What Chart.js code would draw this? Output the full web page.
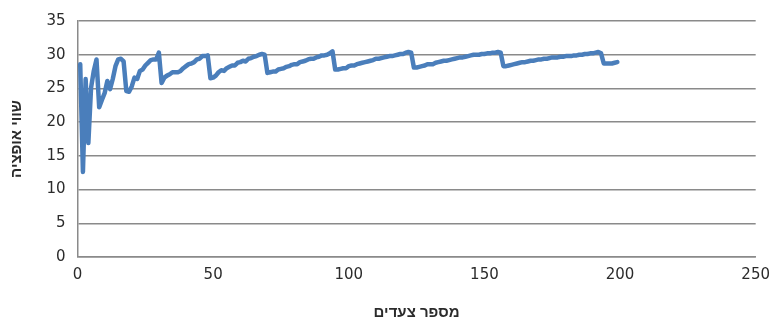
<!DOCTYPE html>
<html lang="he">
<head>
<meta charset="utf-8">
<title>שווי אופציה לפי מספר צעדים</title>
<script src="https://cdn.jsdelivr.net/npm/chart.js@4.4.1/dist/chart.umd.min.js"></script>
<style>
  html, body { margin: 0; padding: 0; background: #ffffff; }
  #wrap { width: 779px; height: 320px; }
</style>
</head>
<body>
<div id="wrap"><canvas id="c" width="779" height="320"></canvas></div>
<script>
// Option value computed on a tree with n steps, n = 1, 2, 3, ...
const optionValues = [
  28.6, 12.6, 26.4, 16.9, 25.1, 27.6, 29.3, 22.2, 23.3, 24.3,
  26.1, 24.9, 26.4, 28.3, 29.3, 29.4, 29.0, 24.6, 24.5, 25.3,
  26.6, 26.4, 27.6, 27.8, 28.4, 28.8, 29.2, 29.3, 29.3, 30.3,
  25.8, 26.6, 26.9, 27.1, 27.4, 27.4, 27.4, 27.6, 28.0, 28.3,
  28.6, 28.7, 28.9, 29.3, 29.4, 29.8, 29.8, 29.9, 26.5, 26.6,
  26.9, 27.4, 27.7, 27.6, 28.0, 28.2, 28.4, 28.4, 28.8, 28.9,
  29.1, 29.0, 29.4, 29.5, 29.7, 29.8, 30.0, 30.1, 30.0, 27.3,
  27.4, 27.5, 27.5, 27.8, 27.9, 28.0, 28.2, 28.3, 28.5, 28.6,
  28.6, 28.9, 29.0, 29.1, 29.3, 29.4, 29.4, 29.6, 29.7, 29.9,
  29.9, 30.0, 30.2, 30.5, 27.8, 27.8, 27.9, 28.0, 28.0, 28.3,
  28.4, 28.4, 28.6, 28.7, 28.8, 28.9, 29.0, 29.1, 29.2, 29.4,
  29.4, 29.5, 29.6, 29.7, 29.8, 29.8, 29.9, 30.0, 30.1, 30.1,
  30.3, 30.4, 30.3, 28.1, 28.1, 28.2, 28.3, 28.4, 28.6, 28.6,
  28.6, 28.8, 28.9, 29.0, 29.1, 29.1, 29.2, 29.3, 29.4, 29.5,
  29.6, 29.6, 29.7, 29.8, 29.9, 30.0, 30.0, 30.0, 30.1, 30.1,
  30.2, 30.2, 30.3, 30.3, 30.4, 30.3, 28.3, 28.3, 28.4, 28.5,
  28.6, 28.7, 28.8, 28.9, 28.9, 29.0, 29.1, 29.1, 29.2, 29.3,
  29.3, 29.4, 29.4, 29.5, 29.6, 29.6, 29.6, 29.7, 29.7, 29.8,
  29.8, 29.8, 29.9, 29.9, 30.0, 30.0, 30.1, 30.1, 30.2, 30.2,
  30.3, 30.4, 30.2, 28.7, 28.7, 28.7, 28.7, 28.8, 28.9
];
// Step counts, one per value
const steps = optionValues.map((_, i) => i + 1);

// Axis ticks
const xTicks = [0, 50, 100, 150, 200, 250];
const yTicks = [0, 5, 10, 15, 20, 25, 30, 35];

const xTitle = 'מספר צעדים';
const yTitle = 'שווי אופציה';

const lineColor = '#4a7ebb';
const gridColor = '#8a8a8a';
const textColor = '#2b2b2b';
const tickFont = { family: 'DejaVu Sans', size: 15 };
const titleFont = { family: 'Liberation Sans', size: 15, weight: 'bold' };

const points = steps.map((s, i) => ({ x: s, y: optionValues[i] }));

new Chart(document.getElementById('c'), {
  type: 'scatter',
  data: {
    datasets: [{
      data: points,
      showLine: true,
      borderColor: lineColor,
      backgroundColor: lineColor,
      borderWidth: 4.5,
      borderJoinStyle: 'round',
      borderCapStyle: 'round',
      pointRadius: 0,
      tension: 0
    }]
  },
  options: {
    responsive: false,
    animation: false,
    devicePixelRatio: 1,
    layout: { padding: { left: 0, right: 16, top: 16, bottom: 0 } },
    plugins: {
      legend: { display: false },
      tooltip: { enabled: false }
    },
    scales: {
      x: {
        type: 'linear',
        min: xTicks[0],
        max: xTicks[xTicks.length - 1],
        afterBuildTicks: scale => { scale.ticks = xTicks.map(v => ({ value: v })); },
        afterFit: scale => { scale.height = 63; },
        ticks: { color: textColor, font: tickFont, padding: 9, maxRotation: 0 },
        grid: { display: true, color: 'rgba(0,0,0,0)', drawTicks: false },
        border: { display: true, color: gridColor, width: 1.5 },
        title: { display: true, text: xTitle, color: textColor, font: titleFont, padding: { top: 10, bottom: -2 } }
      },
      y: {
        type: 'linear',
        min: yTicks[0],
        max: yTicks[yTicks.length - 1],
        afterBuildTicks: scale => { scale.ticks = yTicks.map(v => ({ value: v })); },
        afterFit: scale => { scale.width = 77.5; },
        ticks: { color: textColor, font: tickFont, padding: 12 },
        grid: { color: gridColor, lineWidth: 1.5, drawTicks: false },
        border: { display: true, color: gridColor, width: 1.5 },
        title: { display: true, text: yTitle, color: textColor, font: titleFont, padding: { top: 8, bottom: 0 } }
      }
    }
  }
});
</script>
</body>
</html>
